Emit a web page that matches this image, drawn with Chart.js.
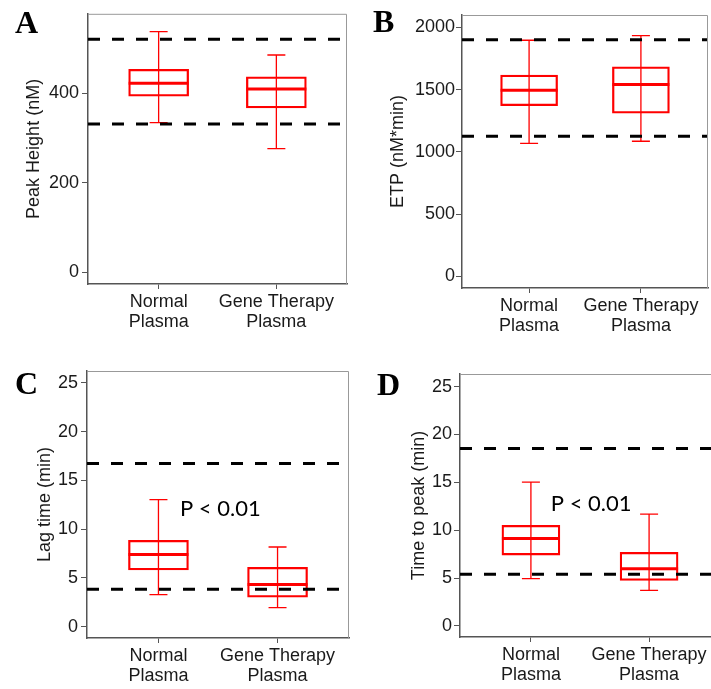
<!DOCTYPE html>
<html>
<head>
<meta charset="utf-8">
<script src="https://cdn.jsdelivr.net/npm/chart.js@4.4.1/dist/chart.umd.min.js"></script>
<style>
  body { margin: 0; width: 711px; height: 689px; overflow: hidden; background: #fff; position: relative; }
  .panel { position: absolute; }
  .letter { position: absolute; font: bold 32px 'Liberation Serif', 'Times New Roman', serif; line-height: 1; color: #000; }
</style>
</head>
<body>
<div class="panel" style="left:0;top:0"><canvas id="chartA" width="355" height="340"></canvas></div>
<div class="panel" style="left:355px;top:0"><canvas id="chartB" width="356" height="340"></canvas></div>
<div class="panel" style="left:0;top:340px"><canvas id="chartC" width="355" height="349"></canvas></div>
<div class="panel" style="left:355px;top:340px"><canvas id="chartD" width="370" height="349"></canvas></div>
<div class="letter" style="left:15px;top:6px">A</div>
<div class="letter" style="left:373px;top:5px">B</div>
<div class="letter" style="left:15px;top:367px">C</div>
<div class="letter" style="left:377px;top:368px">D</div>
<script>
// groups on the x axis
const categories = [['Normal', 'Plasma'], ['Gene Therapy', 'Plasma']];

// box stats per group: [min, q1, median, q3, max]
const peakHeightNormal = [334, 393, 422, 453, 537];
const peakHeightGene = [276, 367, 409, 436, 485];
const peakHeightRefs = [331, 520];
const peakHeightTicks = [0, 200, 400];

const etpNormal = [1067, 1371, 1495, 1616, 1896];
const etpGene = [1085, 1310, 1540, 1682, 1933];
const etpRefs = [1125, 1900];
const etpTicks = [0, 500, 1000, 1500, 2000];

const lagNormal = [3.28, 5.81, 7.39, 8.86, 13.04];
const lagGene = [1.95, 3.01, 4.31, 6.09, 8.17];
const lagRefs = [3.83, 16.73];
const lagTicks = [0, 5, 10, 15, 20, 25];

const ttpNormal = [4.95, 7.41, 9.15, 10.51, 15.03];
const ttpGene = [3.73, 4.77, 5.99, 7.69, 11.69];
const ttpRefs = [5.4, 18.55];
const ttpTicks = [0, 5, 10, 15, 20, 25];

const RED = '#ff0000';
const TEXT = '#1a1a1a';
const AXIS = '#555555';

// whiskers, medians, panel border, reference lines and p-value label
const boxPlot = {
    id: 'boxPlot',
    afterDatasetsDraw(chart, args, opts) {
        const { ctx, chartArea, scales: { x, y } } = chart;
        ctx.save();
        opts.stats.forEach((s, i) => {
            const px = x.getPixelForValue(i + 1);
            ctx.strokeStyle = RED;
            ctx.lineWidth = 1.3;
            ctx.beginPath();
            ctx.moveTo(px, y.getPixelForValue(s[0]));
            ctx.lineTo(px, y.getPixelForValue(s[4]));
            [s[0], s[4]].forEach(v => {
                const py = y.getPixelForValue(v);
                ctx.moveTo(px - opts.cap, py);
                ctx.lineTo(px + opts.cap, py);
            });
            ctx.stroke();
            ctx.lineWidth = 3;
            ctx.beginPath();
            const pm = y.getPixelForValue(s[2]);
            ctx.moveTo(px - opts.box / 2, pm);
            ctx.lineTo(px + opts.box / 2, pm);
            ctx.stroke();
        });

        ctx.strokeStyle = '#000';
        ctx.lineWidth = 3;
        ctx.setLineDash([12, 12]);
        opts.refs.forEach(v => {
            const py = y.getPixelForValue(v);
            ctx.beginPath();
            ctx.moveTo(chartArea.left, py);
            ctx.lineTo(chartArea.right, py);
            ctx.stroke();
        });
        ctx.setLineDash([]);

        ctx.strokeStyle = '#999';
        ctx.lineWidth = 1;
        ctx.beginPath();
        ctx.moveTo(chartArea.left, chartArea.top + 0.5);
        ctx.lineTo(chartArea.right - 0.5, chartArea.top + 0.5);
        ctx.lineTo(chartArea.right - 0.5, chartArea.bottom);
        ctx.stroke();

        if (opts.label) {
            ctx.fillStyle = '#000';
            ctx.font = '22px Lato, "Open Sans", sans-serif';
            ctx.textAlign = 'center';
            ctx.textBaseline = 'middle';
            ctx.fillText(opts.label.text, x.getPixelForValue(opts.label.x), y.getPixelForValue(opts.label.y));
        }
        ctx.restore();
    }
};

function makePanel(id, p) {
    new Chart(document.getElementById(id), {
        type: 'bar',
        data: {
            datasets: [{
                data: [
                    { x: 1, y: [p.normal[1], p.normal[3]] },
                    { x: 2, y: [p.gene[1], p.gene[3]] }
                ],
                backgroundColor: 'rgba(0,0,0,0)',
                borderColor: RED,
                borderWidth: 1.6,
                borderSkipped: false,
                barThickness: p.box
            }]
        },
        options: {
            responsive: false,
            animation: false,
            layout: { padding: { top: p.top, right: p.right, left: 0, bottom: 0 } },
            plugins: {
                legend: { display: false },
                tooltip: { enabled: false },
                boxPlot: { stats: [p.normal, p.gene], refs: p.refs, cap: 9, box: p.box, label: p.label }
            },
            scales: {
                x: {
                    type: 'linear',
                    min: 0.4,
                    max: 2.6,
                    offset: false,
                    afterBuildTicks: s => { s.ticks = [{ value: 1 }, { value: 2 }]; },
                    afterFit: s => { s.height = p.xh; },
                    grid: { display: true, drawOnChartArea: false, offset: false, tickLength: 5, color: AXIS },
                    border: { display: true, color: AXIS, width: 1.5 },
                    ticks: {
                        color: TEXT,
                        padding: 3,
                        maxRotation: 0,
                        font: { family: 'Liberation Sans, Arial, sans-serif', size: 18, lineHeight: 1.1 },
                        callback: v => categories[v - 1]
                    }
                },
                y: {
                    min: p.min,
                    max: p.max,
                    afterBuildTicks: s => { s.ticks = p.ticks.map(v => ({ value: v })); },
                    afterFit: s => { s.width = p.yw; },
                    grid: { display: true, drawOnChartArea: false, tickLength: 6, color: AXIS },
                    border: { display: true, color: AXIS, width: 1.5 },
                    ticks: {
                        color: TEXT,
                        padding: p.tickPad,
                        font: { family: 'Liberation Sans, Arial, sans-serif', size: 18 },
                        callback: v => String(v)
                    },
                    title: {
                        display: true,
                        text: p.title,
                        color: TEXT,
                        padding: { top: p.titlePad, bottom: 0 },
                        font: { family: 'Liberation Sans, Arial, sans-serif', size: 18 }
                    }
                }
            }
        },
        plugins: [boxPlot]
    });
}

makePanel('chartA', {
    normal: peakHeightNormal, gene: peakHeightGene, refs: peakHeightRefs, ticks: peakHeightTicks,
    min: -26.5, max: 577, title: 'Peak Height (nM)',
    top: 11, right: 8, yw: 88, xh: 56, tickPad: 3, titlePad: 23, box: 60
});
makePanel('chartB', {
    normal: etpNormal, gene: etpGene, refs: etpRefs, ticks: etpTicks,
    min: -94, max: 2099, title: 'ETP (nM*min)',
    top: 15, right: 3, yw: 107, xh: 52, tickPad: 1, titlePad: 32, box: 57
});
makePanel('chartC', {
    normal: lagNormal, gene: lagGene, refs: lagRefs, ticks: lagTicks,
    min: -1.17, max: 26.23, title: 'Lag time (min)',
    top: 31, right: 6, yw: 87, xh: 51, tickPad: 3, titlePad: 34, box: 60,
    label: { text: 'P < 0.01', x: 1.52, y: 12.1 }
});
makePanel('chartD', {
    normal: ttpNormal, gene: ttpGene, refs: ttpRefs, ticks: ttpTicks,
    min: -1.15, max: 26.32, title: 'Time to peak (min)',
    top: 34, right: 5, yw: 105, xh: 52, tickPad: 2, titlePad: 53, box: 58,
    label: { text: 'P < 0.01', x: 1.51, y: 12.7 }
});
</script>
</body>
</html>
